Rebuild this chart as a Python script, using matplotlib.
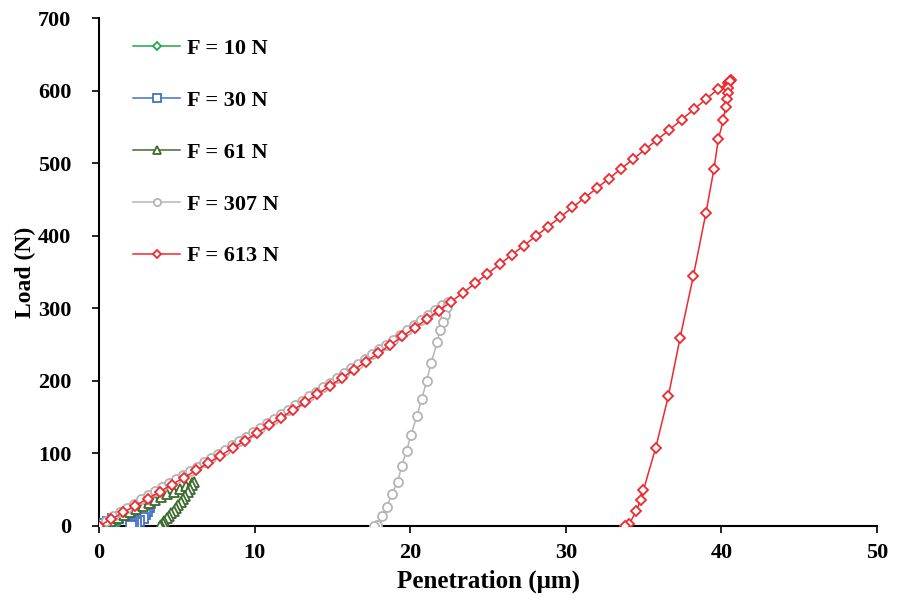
import matplotlib
matplotlib.use("Agg")
import matplotlib.pyplot as plt

# ---------------- data ----------------
# F = 10 N
x10 = [0.0, 0.25, 0.5, 0.75, 1.0, 1.2, 1.3, 1.2, 1.1, 1.0, 0.9]
y10 = [0.0, 2.0, 4.0, 6.0, 8.0, 9.5, 10.0, 7.0, 4.0, 1.5, 0.0]

# F = 30 N
x30 = [0.0, 0.3, 0.6, 0.9, 1.2, 1.5, 1.8, 2.1, 2.4, 2.7, 3.0, 3.3,
       3.2, 3.1, 2.95, 2.8, 2.6, 2.4, 2.2, 2.05]
y30 = [0.0, 3.0, 6.0, 9.0, 11.5, 14.5, 17.0, 20.0, 23.0, 26.0, 28.5, 31.0,
       26.0, 21.0, 16.0, 11.0, 7.0, 3.5, 1.0, 0.0]

# F = 61 N
x61 = [0.0, 0.4, 0.8, 1.2, 1.6, 2.0, 2.4, 2.8, 3.2, 3.6, 4.0, 4.4,
       4.8, 5.2, 5.6, 6.0, 6.1,
       6.0, 5.85, 5.7, 5.55, 5.4, 5.25, 5.1, 4.95, 4.8, 4.65, 4.5,
       4.35, 4.2, 4.1, 4.0, 3.9]
y61 = [0.0, 3.5, 7.5, 11.5, 15.5, 19.5, 23.5, 27.5, 31.5, 35.5, 39.5, 43.5,
       47.5, 51.5, 55.5, 59.5, 61.0,
       56.0, 51.0, 46.5, 42.0, 37.5, 33.0, 29.0, 25.0, 21.0, 17.5, 14.0,
       10.5, 7.0, 4.5, 2.0, 0.0]

# F = 307 N
x307 = [0.0, 0.45, 0.9, 1.35, 1.8, 2.25, 2.7, 3.15, 3.6, 4.05, 4.5, 4.95,
        5.4, 5.85, 6.3, 6.75, 7.2, 7.65, 8.1, 8.55, 9.0, 9.45, 9.9, 10.35,
        10.8, 11.25, 11.7, 12.15, 12.6, 13.05, 13.5, 13.95, 14.4, 14.85,
        15.3, 15.75, 16.2, 16.65, 17.1, 17.55, 18.0, 18.45, 18.9, 19.35,
        19.8, 20.25, 20.7, 21.15, 21.6, 22.05, 22.45,
        22.34, 22.24, 22.09, 21.9, 21.74, 21.34, 21.06, 20.74, 20.42,
        20.05, 19.77, 19.45, 19.2, 18.81, 18.49, 18.17, 17.85, 17.67]
y307 = [0.0, 6.8, 13.2, 19.1, 25.0, 30.9, 36.6, 42.1, 47.7, 53.3, 59.0, 64.6,
        70.3, 76.0, 81.9, 87.7, 93.5, 99.4, 105.3, 111.3, 117.2, 123.2, 129.2,
        135.3, 141.4, 147.5, 153.7, 159.9, 166.1, 172.3, 178.6, 185.0, 191.3,
        197.7, 204.1, 210.6, 217.1, 223.6, 230.2, 236.8, 243.4, 250.1, 256.7,
        263.5, 270.2, 277.0, 283.9, 290.7, 297.6, 304.5, 309.0,
        302.0, 291.0, 281.0, 270.0, 253.0, 225.0, 200.0, 175.0, 151.0,
        126.0, 104.0, 83.0, 61.0, 44.0, 26.0, 14.0, 2.0, 0.0]

# F = 613 N
x613 = [0.0, 0.78, 1.56, 2.34, 3.12, 3.9, 4.68, 5.46, 6.24, 7.02, 7.8, 8.58,
        9.36, 10.14, 10.92, 11.7, 12.48, 13.26, 14.04, 14.82, 15.6, 16.38,
        17.16, 17.94, 18.72, 19.5, 20.28, 21.06, 21.84, 22.62, 23.4, 24.18,
        24.96, 25.74, 26.52, 27.3, 28.08, 28.86, 29.64, 30.42, 31.2, 31.98,
        32.76, 33.54, 34.32, 35.1, 35.88, 36.66, 37.44, 38.22, 39.0, 39.78,
        40.4, 40.5, 40.55, 40.6, 40.58,
        40.44, 40.44, 40.33, 40.27, 40.12, 39.8, 39.52, 39.01, 38.19, 37.34,
        36.59, 35.78, 34.98, 34.81, 34.51, 34.08, 33.8]
y613 = [0.0, 9.2, 18.6, 28.0, 37.6, 47.2, 57.0, 66.8, 76.7, 86.8, 96.9, 107.2,
        117.5, 128.0, 138.5, 149.2, 159.9, 170.8, 181.7, 192.8, 203.9, 215.2,
        226.6, 238.0, 249.6, 261.2, 273.0, 284.9, 296.8, 308.9, 321.5, 334.5,
        347.5, 360.5, 373.5, 386.5, 399.5, 412.5, 425.5, 439.0, 452.0, 465.5,
        478.5, 492.0, 505.5, 519.0, 532.5, 546.0, 560.0, 574.0, 588.0, 602.0,
        610.0, 612.0, 613.0, 614.0, 613.5,
        603.0, 596.0, 588.0, 578.0, 559.0, 533.0, 492.0, 432.0, 344.0, 259.0,
        179.0, 108.0, 49.0, 36.0, 20.0, 3.0, 0.0]

labels = ["F = 10 N", "F = 30 N", "F = 61 N", "F = 307 N", "F = 613 N"]

# ---------------- figure ----------------
plt.rcParams['font.family'] = ['Liberation Serif', 'DejaVu Serif']
plt.rcParams['font.weight'] = 'bold'

fig = plt.figure(figsize=(9.01, 6.05), dpi=100)
ax = fig.add_axes([0.1099, 0.1306, 0.8635, 0.8396])

lw = 1.1
mew = 1.3
ax.plot(x10, y10, color='#21A64A', lw=lw, marker='D', ms=5, mfc='white',
        mec='#21A64A', mew=mew, label=labels[0], zorder=3)
ax.plot(x30, y30, color='#4472C4', lw=lw, marker='s', ms=6.5, mfc='white',
        mec='#4472C4', mew=mew, label=labels[1], zorder=3)
ax.plot(x61, y61, color='#3D6B2F', lw=lw, marker='^', ms=6.5, mfc='white',
        mec='#3D6B2F', mew=mew, label=labels[2], zorder=3)
ax.plot(x307, y307, color='#B5B5B5', lw=lw, marker='o', ms=6.5, mfc='white',
        mec='#B5B5B5', mew=mew, label=labels[3], zorder=4)
ax.plot(x613, y613, color='#F0282D', lw=lw, marker='D', ms=5, mfc='white',
        mec='#F0282D', mew=mew, label=labels[4], zorder=5)

ax.set_xlim(0, 50)
ax.set_ylim(0, 700)
ax.set_xticks([0, 10, 20, 30, 40, 50])
ax.set_yticks([0, 100, 200, 300, 400, 500, 600, 700])

for s in ['top', 'right']:
    ax.spines[s].set_visible(False)
for s in ['left', 'bottom']:
    ax.spines[s].set_linewidth(1.5)
    ax.spines[s].set_color('black')

ax.tick_params(axis='both', direction='out', length=5, width=1.2,
               labelsize=16)
ax.tick_params(axis='y', pad=15)
ax.tick_params(axis='x', pad=7)
for t in ax.get_xticklabels() + ax.get_yticklabels():
    t.set_fontweight('bold')

ax.set_xlabel("Penetration (μm)", fontsize=18, fontweight='bold', labelpad=5)
ax.set_ylabel("Load (N)", fontsize=17, fontweight='bold', labelpad=1)

leg = ax.legend(loc='upper left', bbox_to_anchor=(0.03, 0.982), frameon=False,
                fontsize=16, handlelength=2.1, handletextpad=0.3,
                labelspacing=1.41, borderpad=0, markerscale=0.8)
for t in leg.get_texts():
    t.set_fontweight('bold')

fig.savefig("out.png", dpi=100)
